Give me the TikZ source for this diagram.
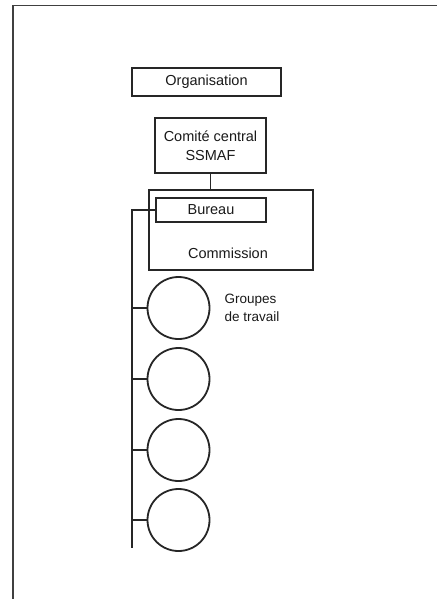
\documentclass[tikz,border=0pt]{standalone}
\usepackage{fontspec}
\setmainfont{Liberation Sans}
\begin{document}
\begin{tikzpicture}[x=1pt,y=-1pt,
  every node/.style={font=\fontsize{14.5}{19}\selectfont, text=black!90},
  box/.style={draw=black!85, line width=2.2pt, inner sep=0pt},
  thinbox/.style={draw=black!85, line width=1.4pt, inner sep=0pt},
  grp/.style={draw=black!85, line width=1.8pt, circle, minimum size=62pt, inner sep=0pt},
  link/.style={draw=black!85, line width=1.3pt}]
\useasboundingbox (0,0) rectangle (437,599);
\draw[black!75, line width=1.2pt] (13,599) -- (13,5.5) -- (437,5.5);
\node[box, minimum width=149pt, minimum height=28pt] (org) at (206.5,82) {Organisation};
\node[box, minimum width=111pt, minimum height=55pt, align=center] (cc) at (210.5,145.5) {Comité central\\SSMAF};
\node[box, minimum width=164pt, minimum height=80pt] (com) at (231,230) {};
\node (comtext) at (228,253) {Commission};
\node[thinbox, minimum width=110pt, minimum height=24pt] (bur) at (211,210) {Bureau};
\node[grp] (g1) at (178.5,308) {};
\node[grp] (g2) at (178.5,379) {};
\node[grp] (g3) at (178.5,450) {};
\node[grp] (g4) at (178.5,520) {};
\node[anchor=west, align=left, font=\fontsize{13.5}{18}\selectfont] (gt) at (221,308) {Groupes\\de travail};
\coordinate (top) at (132,210);
\coordinate (bot) at (132,548);
\draw[link] (cc.south) -- (com.north -| cc.south);
\draw[link] (bur.west) -- (top) -- (bot);
\foreach \g in {g1,g2,g3,g4} \draw[link] (\g.west) -- (\g.west -| top);
\end{tikzpicture}
\end{document}
